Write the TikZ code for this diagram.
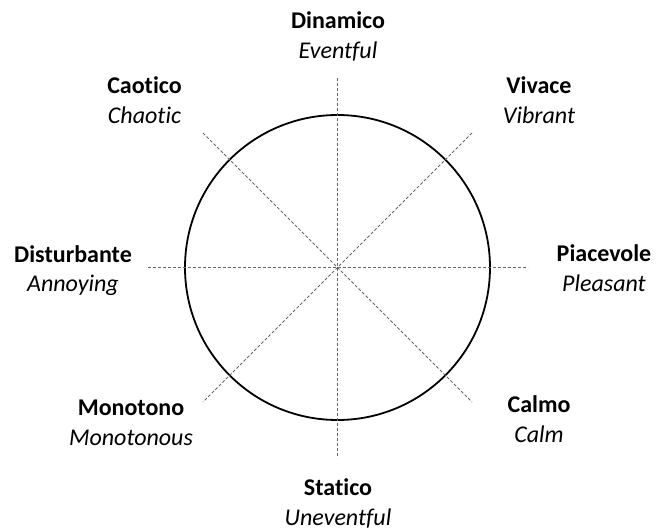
\documentclass[tikz,border=0pt]{standalone}
\usepackage{fontspec}
\setmainfont[Ligatures=NoCommon]{Carlito}
\begin{document}
\begin{tikzpicture}[x=1pt,y=-1pt,
  title/.style={font=\fontsize{24}{28}\selectfont\bfseries, anchor=base, inner sep=0pt},
  sub/.style={font=\fontsize{24}{28}\selectfont\itshape, anchor=base, inner sep=0pt},
  axis/.style={draw=black!60, line width=0.9pt, dash pattern=on 3pt off 2pt},
  ring/.style={draw=black, line width=1.8pt}]
\useasboundingbox (0,0) rectangle (656,530);
\coordinate (c) at (337.5,267.5);
\node[ring, circle, minimum size=305pt, inner sep=0pt] (circ) at (c) {};
\coordinate (n) at (337.5,77.5);
\coordinate (s) at (337.5,457.5);
\coordinate (w) at (147.5,267.5);
\coordinate (e) at (527.5,267.5);
\coordinate (nw) at (203,133);
\coordinate (se) at (472,402);
\coordinate (ne) at (472,133);
\coordinate (sw) at (203,402);
\draw[axis] (n) -- (s);
\draw[axis] (w) -- (e);
\draw[axis] (nw) -- (se);
\draw[axis] (ne) -- (sw);
\node[title] (dinT) at (338,28) {Dinamico};
\node[sub] (dinS) at (338,58) {Eventful};
\node[title] (caoT) at (144.5,93) {Caotico};
\node[sub] (caoS) at (144.5,123) {Chaotic};
\node[title] (vivT) at (539,93) {Vivace};
\node[sub] (vivS) at (539,123) {Vibrant};
\node[title] (disT) at (73,262) {Disturbante};
\node[sub] (disS) at (73,291) {Annoying};
\node[title] (piaT) at (604,261) {Piacevole};
\node[sub] (piaS) at (604,291) {Pleasant};
\node[title] (monT) at (131,415) {Monotono};
\node[sub] (monS) at (131,445) {Monotonous};
\node[title] (calT) at (539,412) {Calmo};
\node[sub] (calS) at (539,442) {Calm};
\node[title] (staT) at (338,495) {Statico};
\node[sub] (staS) at (338,525) {Uneventful};
\end{tikzpicture}
\end{document}
